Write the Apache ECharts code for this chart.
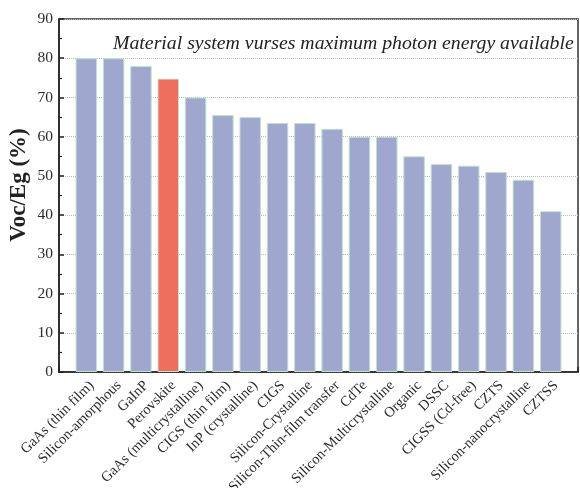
<!DOCTYPE html>
<html><head><meta charset="utf-8">
<script src="https://cdn.jsdelivr.net/npm/echarts@6/dist/echarts.min.js"></script>
<style>html,body{margin:0;padding:0;background:#fff}#c{width:580px;height:488px}</style>
</head><body><div id="c"></div>
<script>
const categories = ['GaAs (thin film)','Silicon-amorphous','GaInP','Perovskite','GaAs (multicrystalline)','CIGS (thin film)','InP (crystalline)','CIGS','Silicon-Crystalline','Silicon-Thin-film transfer','CdTe','Silicon-Multicrystalline','Organic','DSSC','CIGSS (Cd-free)','CZTS','Silicon-nanocrystalline','CZTSS'];
const vocEg = [80, 80, 78, 74.8, 70, 65.5, 65, 63.5, 63.5, 62, 60, 60, 55, 53, 52.6, 51, 49, 41];
const highlight = 'Perovskite';
const yTicks = [0,10,20,30,40,50,60,70,80,90];
const titleText = 'Material system vurses maximum photon energy available';
const yName = 'Voc/Eg (%)';

const xData = [''].concat(categories, ['']);
const barData = ['-'].concat(vocEg.map((v,i)=>({value:v, itemStyle:{color: categories[i]===highlight ? '#ef6f5f' : '#a0a7cf'}})), ['-']);
const serif = '"Liberation Serif","DejaVu Serif",serif';

const chart = echarts.init(document.getElementById('c'));
chart.setOption({
  animation:false,
  title:{text:titleText,left:108,top:29,textStyle:{fontFamily:serif,fontStyle:'italic',fontWeight:'normal',fontSize:19.8,color:'#222'}},
  graphic:[{type:'text',rotation:Math.PI/2,x:19,y:185,
    style:{text:yName,font:'bold 23px '+serif,fill:'#222',align:'center',verticalAlign:'middle'}}],
  grid:{left:59,right:2,top:19,bottom:116,show:true,borderColor:'#333',borderWidth:1.5,backgroundColor:'transparent',outerBoundsMode:'none',containLabel:false},
  xAxis:{type:'category',data:xData,boundaryGap:false,
    axisLine:{lineStyle:{color:'#222',width:1.5}},
    axisTick:{show:true,inside:true,length:5,interval:0,lineStyle:{color:'#222',width:1.5}},
    axisLabel:{interval:0,rotate:45,fontFamily:serif,fontSize:14.5,color:'#2a2a2a',margin:6,verticalAlign:'top'},
    splitLine:{show:false}},
  yAxis:{type:'value',min:yTicks[0],max:yTicks[yTicks.length-1],interval:10,
    axisLine:{show:true,lineStyle:{color:'#222',width:1.5}},
    axisTick:{show:true,inside:true,length:5,lineStyle:{color:'#222',width:1.5}},
    minorTick:{show:true,splitNumber:2,length:3,lineStyle:{color:'#222',width:1.2}},
    axisLabel:{fontFamily:serif,fontSize:15.5,color:'#2a2a2a',margin:6},
    splitLine:{show:true,lineStyle:{color:'#bbb',type:'dotted',width:1}}},
  series:[{type:'bar',data:barData,barWidth:21.5,
    itemStyle:{borderColor:'#bfe3cc',borderWidth:1}}]
});
</script></body></html>
